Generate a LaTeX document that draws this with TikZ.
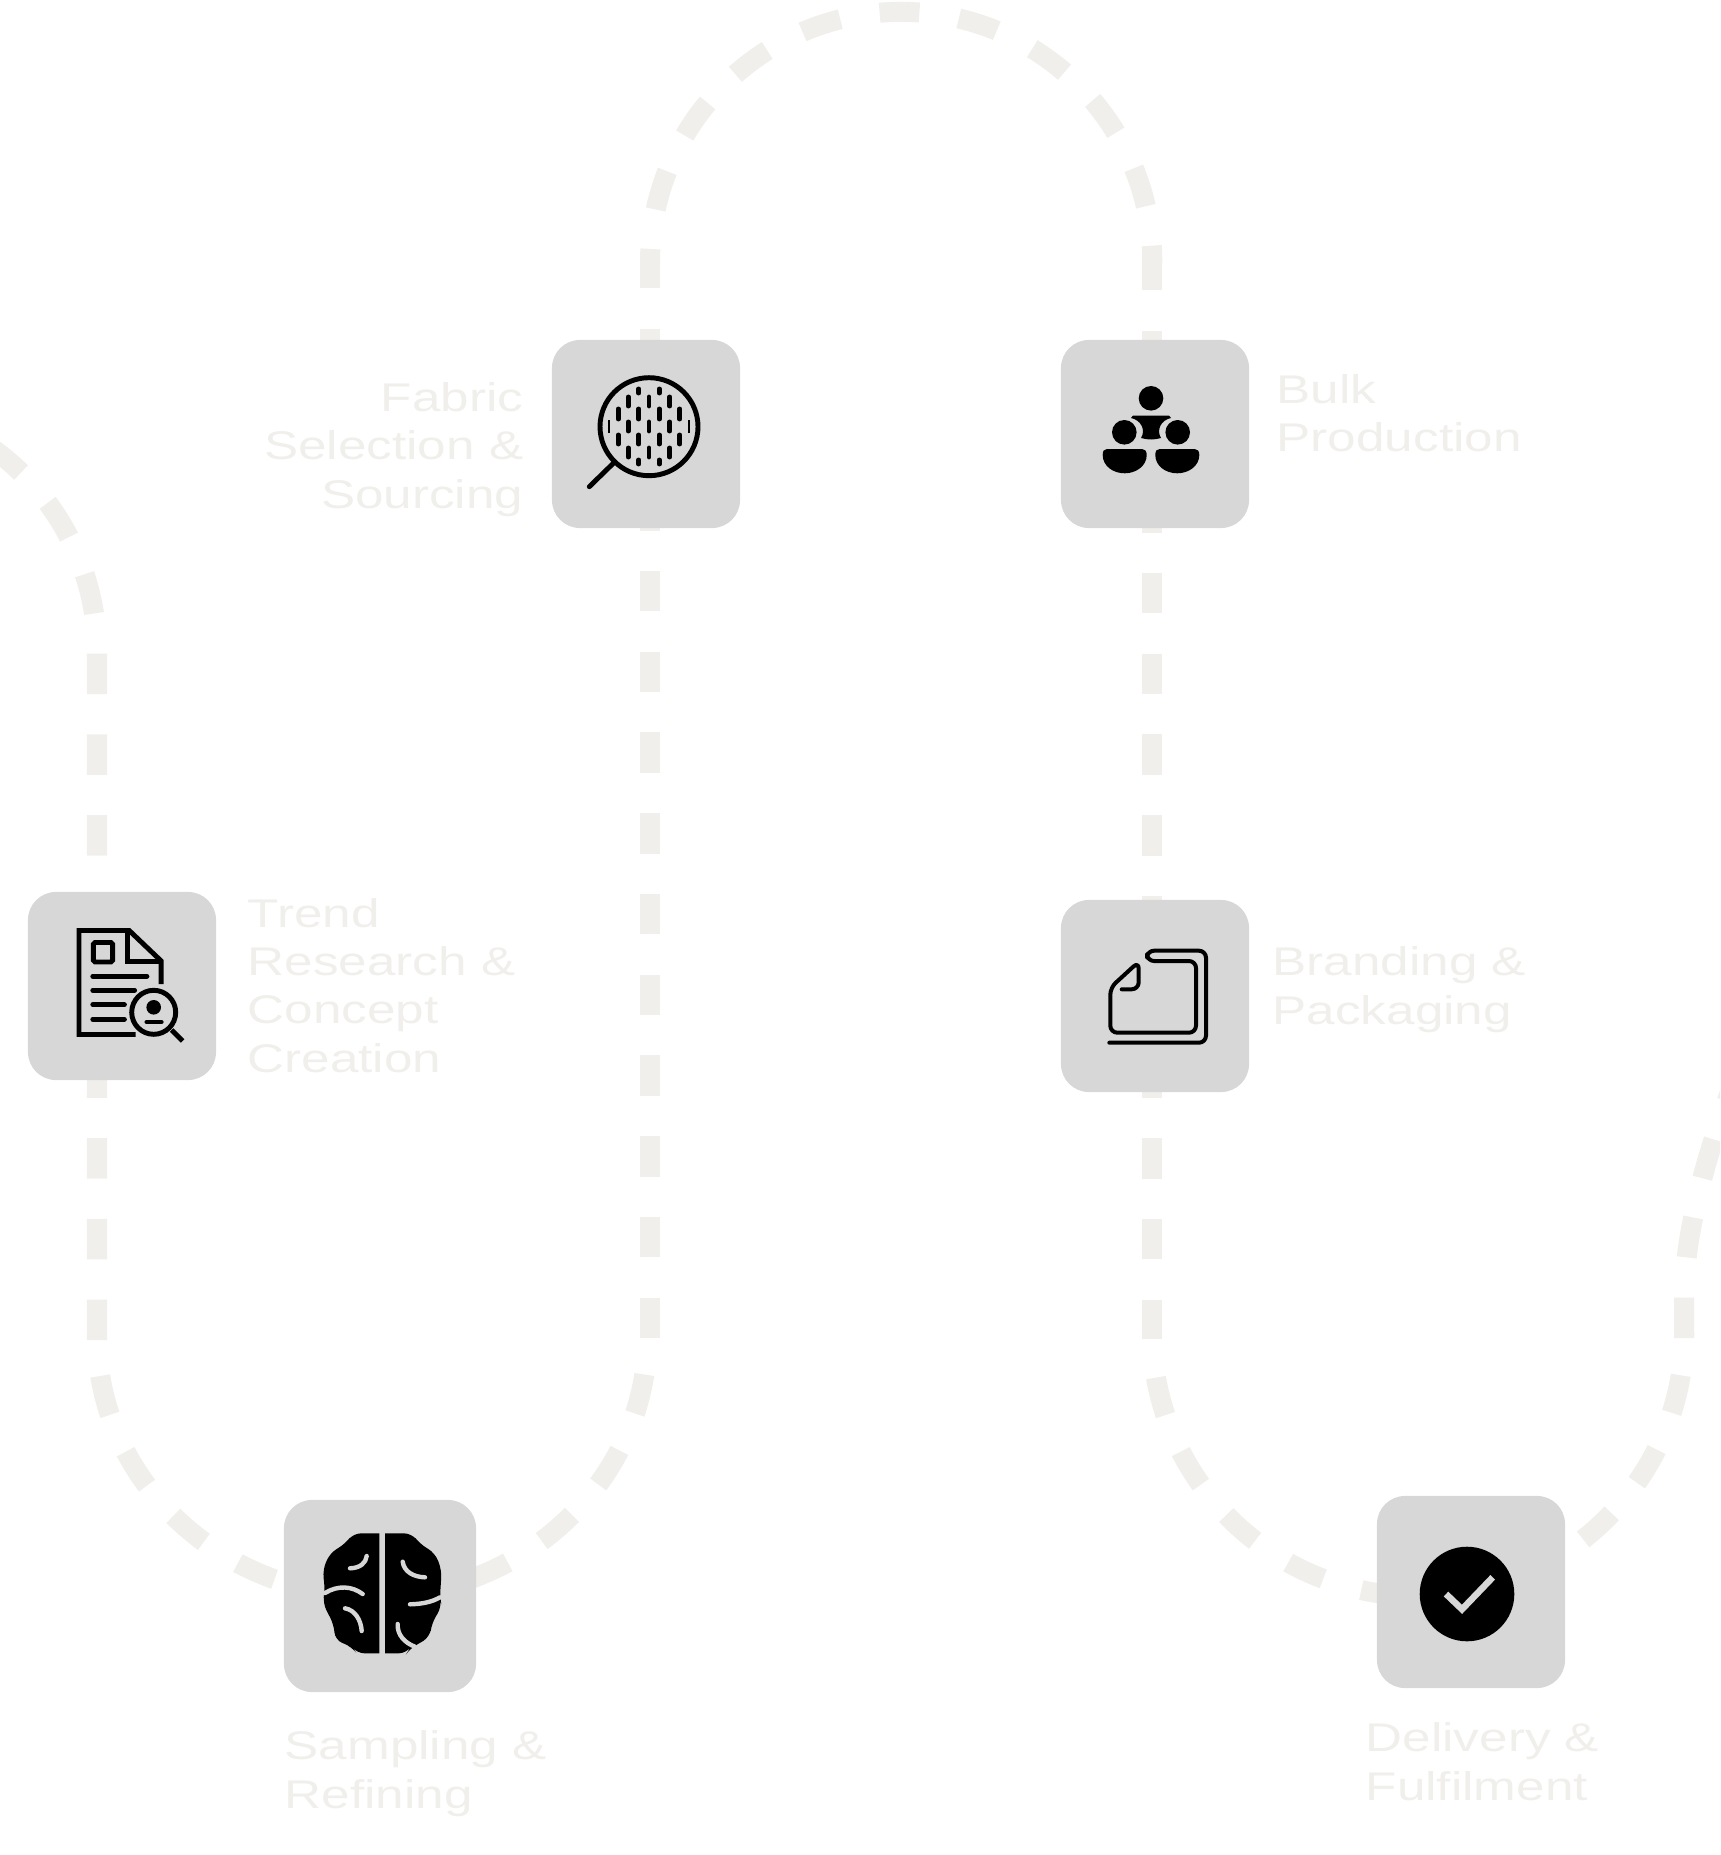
\documentclass[tikz,border=0pt]{standalone}
\usepackage{xcolor}
\usepackage{fontspec}
\setmainfont[FakeStretch=1.28]{Liberation Sans}

\definecolor{pathgrey}{HTML}{F0EFEB}
\definecolor{boxgrey}{HTML}{D7D7D7}

\tikzset{
  dashline/.style={pathgrey, line width=5.69pt, dash pattern=on 11.5pt off 11.46pt},
  iconbox/.style={fill=boxgrey, rounded corners=0.28cm, inner sep=0pt, outer sep=0pt, minimum width=1.88cm, minimum height=1.88cm},
  steplabel/.style={pathgrey, inner sep=0pt, font=\fontsize{11.38pt}{13.66pt}\selectfont},
  thinline/.style={line width=1.14pt, line cap=round, line join=round},
  midline/.style={line width=1.4pt, line cap=round, line join=miter},
  weave/.style={line width=1.4pt, line cap=round},
  fold/.style={boxgrey, line width=1.25pt, line cap=round},
}

\begin{document}
\begin{tikzpicture}[x=0.01cm, y=-0.01cm]
  \path[use as bounding box, clip] (0,0) rectangle (1720,1855);

  % the dashed route, one piece per bend
  \coordinate (lowA) at (97,1340);
  \coordinate (archA) at (97,652);
  \coordinate (lowB) at (650,1338);
  \coordinate (archB) at (650,263);
  \coordinate (topC) at (1152,250);
  \coordinate (lowC) at (1152,1339);
  \coordinate (bendA) at (97,1336);
  \coordinate (bendB) at (1152,1332);
  \coordinate (lowD) at (1684,1338);
  \coordinate (archD) at (1684,1300);
  \coordinate (exitD) at (1755,1030);

  \draw[dashline] (lowA) -- (archA) arc[start angle=0, end angle=70, radius=2.5cm];
  \draw[dashline] (lowB) -- (archB);
  \draw[dashline, dash pattern=on 11.34pt off 11.34pt, dash phase=7.34pt] (archB) arc[start angle=180, end angle=0, radius=2.51cm];
  \draw[dashline] (topC) -- (lowC);
  \draw[dashline, dash pattern=on 11.41pt off 11.41pt, dash phase=11.41pt] (bendA) arc[start angle=180, end angle=360, x radius=2.75cm, y radius=2.6cm];
  \draw[dashline, dash pattern=on 11pt off 11.28pt, dash phase=9.25pt] (bendB) arc[start angle=180, end angle=360, x radius=2.66cm, y radius=2.64cm];
  \draw[dashline] (lowD) -- (archD) .. controls (1684,1220) and (1716,1120) .. (exitD);

  % boxes
  \node[iconbox] (fabric) at (646,434) {};
  \node[iconbox] (bulk) at (1155,434) {};
  \node[iconbox] (trend) at (122,986) {};
  \node[iconbox, minimum height=1.92cm] (branding) at (1155,996) {};
  \node[iconbox, minimum width=1.92cm, minimum height=1.92cm] (sampling) at (380,1596) {};
  \node[iconbox, minimum height=1.92cm] (delivery) at (1471,1592) {};

  % labels
  \node[steplabel, align=right, anchor=base east] (fabriclabel) at (524,508) {Fabric\\Selection \&\\Sourcing};
  \node[steplabel, align=left, anchor=base west] (bulklabel) at (1276,452) {Bulk\\Production};
  \node[steplabel, align=left, anchor=base west] (trendlabel) at (247,1072) {Trend\\Research \&\\Concept\\Creation};
  \node[steplabel, align=left, anchor=base west] (brandinglabel) at (1272,1024) {Branding \&\\Packaging};
  \node[steplabel, align=left, anchor=base west] (samplinglabel) at (284,1808) {Sampling \&\\Refining};
  \node[steplabel, align=left, anchor=base west] (deliverylabel) at (1365,1800) {Delivery \&\\Fulfilment};

  % fabric icon
  \draw[midline] (649,426.7) circle[radius=49];
  \draw[midline] (613.3,463.3) -- (589.3,486.7);
  \draw[line width=0.6pt] (609.3,420) -- (609.3,433.3) (688.7,420) -- (688.7,433.3);
  \draw[weave] (618.3,409) -- (618.3,419) (618.3,435) -- (618.3,444);
  \draw[weave] (628.3,397) -- (628.3,406) (628.3,422) -- (628.3,431) (628.3,448) -- (628.3,457);
  \draw[weave] (638.7,389) -- (638.7,393) (638.7,409) -- (638.7,419) (638.7,435) -- (638.7,444) (638.7,460) -- (638.7,464);
  \draw[weave] (649,397) -- (649,406) (649,422) -- (649,431) (649,448) -- (649,457);
  \draw[weave] (659.3,389) -- (659.3,393) (659.3,409) -- (659.3,419) (659.3,435) -- (659.3,444) (659.3,460) -- (659.3,464);
  \draw[weave] (669.7,397) -- (669.7,406) (669.7,422) -- (669.7,431) (669.7,448) -- (669.7,457);
  \draw[weave] (679.7,409) -- (679.7,419) (679.7,435) -- (679.7,444);

  % bulk icon
  \begin{scope}[xshift=0.01cm]
    \fill (1150,398.3) circle[radius=12.3];
    \fill (1123.3,432.3) circle[radius=12.3];
    \fill (1176.7,432.3) circle[radius=12.3];
    \fill (1132,415.5) -- (1168,415.5) -- (1170,418) .. controls (1160,420) and (1155,430) .. (1160,438) .. controls (1153,440) and (1147,440) .. (1140,438) .. controls (1145,430) and (1140,420) .. (1130,418) -- cycle;
    \fill (1106,449) -- (1141,449) .. controls (1144,449) and (1145.7,451) .. (1145.7,455) .. controls (1145.7,466) and (1135,473.3) .. (1123.7,473.3) .. controls (1112,473.3) and (1101.7,466) .. (1101.7,455) .. controls (1101.7,451) and (1103,449) .. (1106,449) -- cycle;
    \fill (1158.6,449) -- (1193.6,449) .. controls (1196.6,449) and (1198.3,451) .. (1198.3,455) .. controls (1198.3,466) and (1187.6,473.3) .. (1176.3,473.3) .. controls (1164.6,473.3) and (1154.3,466) .. (1154.3,455) .. controls (1154.3,451) and (1155.6,449) .. (1158.6,449) -- cycle;
  \end{scope}

  % trend icon
  \draw[midline, line cap=butt] (135.6,1034.5) -- (79,1034.5) -- (79,930.5) -- (129.2,930.5) -- (161.2,961) -- (161.2,984);
  \draw[midline, line cap=butt] (127.5,930.5) -- (127.5,961.7) -- (161.2,961.7);
  \draw[midline, rounded corners=0.5pt] (93.3,942.5) rectangle (112.7,962);
  \draw[midline] (92.8,976.3) -- (146.9,976.3) (92.8,990.3) -- (134.6,990.3) (92.8,1004.7) -- (124.4,1004.7) (92.8,1019.3) -- (124.4,1019.3);
  \draw[midline] (153.7,1012.3) circle[radius=22];
  \fill (153.7,1007.3) circle[radius=7.3];
  \draw[midline] (146.9,1022) -- (161.2,1022);
  \draw[midline, line cap=butt] (171.7,1030) -- (182.6,1041);

  % branding icon
  \begin{scope}[xshift=0.01cm]
    \draw[thinline, rounded corners=2pt] (1120.7,989.3) -- (1137.7,989.3) -- (1137.7,961.7) -- (1109.3,987.7) -- (1109.3,1032.7) -- (1195,1032.7) -- (1195,961) -- (1146,961) -- (1146,950.7) -- (1205,950.7) -- (1205,1042.7) -- (1108.3,1042.7);
  \end{scope}

  % sampling icon
  \fill (379.3,1533.3) [rounded corners=2.2pt] -- (353.3,1533.3) -- (345,1544) -- (330,1553) -- (322.7,1570) -- (325,1590) -- (322.7,1603) -- (334,1625) -- (335,1640) -- (351.7,1646.7) -- (356.7,1653.3) [sharp corners] -- (379.3,1653.3) -- cycle;
  \fill (385,1533.3) [rounded corners=2.2pt] -- (411.7,1533.3) -- (420,1544) -- (435,1553) -- (441.7,1570) -- (440,1596.7) -- (441.7,1606.7) -- (431.7,1623.3) -- (430,1636.7) -- (416.7,1645) -- (410,1648) -- (406.7,1653.3) [sharp corners] -- (385,1653.3) -- cycle;
  \draw[fold] (350,1568.3) .. controls (360,1568) and (366,1563) .. (366.7,1556);
  \draw[fold] (325,1593) .. controls (338,1585) and (352,1586) .. (362.7,1594);
  \draw[fold] (345,1608.3) .. controls (355,1610) and (361,1620) .. (361.7,1631);
  \draw[fold] (402.7,1561.7) .. controls (404,1572) and (414,1577) .. (425,1577.3);
  \draw[fold] (410,1604.3) .. controls (422,1604) and (432,1602) .. (440,1597.3);
  \draw[fold] (397.7,1624) .. controls (397,1635) and (405,1643) .. (415,1646.7);

  % delivery icon
  \fill (1467,1594) circle[radius=47.3];
  \draw[boxgrey, line width=1.85pt] (1446,1594) -- (1462,1609.3) -- (1492.7,1577.3);
\end{tikzpicture}
\end{document}
